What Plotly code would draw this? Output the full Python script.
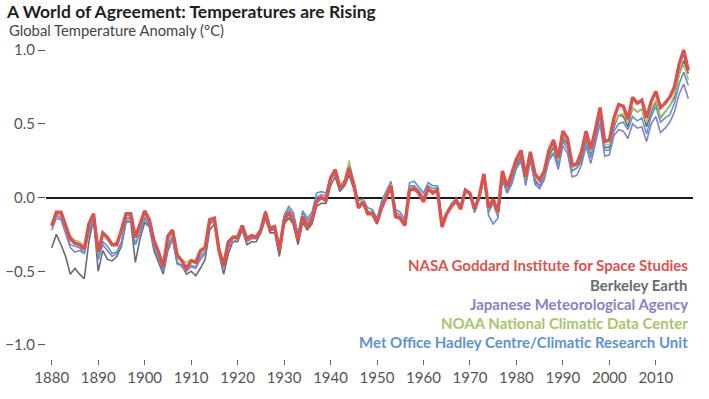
import plotly.graph_objects as go

years = list(range(1880, 2018))

nasa = [
    -0.19, -0.10, -0.10, -0.19, -0.28, -0.31, -0.32, -0.35, -0.18, -0.11,
    -0.37, -0.24, -0.27, -0.32, -0.32, -0.22, -0.11, -0.11, -0.27, -0.18,
    -0.09, -0.15, -0.29, -0.37, -0.47, -0.26, -0.22, -0.39, -0.43, -0.48,
    -0.43, -0.44, -0.36, -0.34, -0.15, -0.14, -0.36, -0.46, -0.30, -0.27,
    -0.27, -0.19, -0.28, -0.26, -0.27, -0.22, -0.10, -0.22, -0.20, -0.36,
    -0.16, -0.10, -0.16, -0.29, -0.13, -0.20, -0.15, -0.03, -0.00, -0.02,
    0.13, 0.19, 0.07, 0.09, 0.20, 0.09, -0.07, -0.03, -0.11, -0.11,
    -0.17, -0.07, 0.01, 0.08, -0.13, -0.14, -0.19, 0.05, 0.06, 0.03,
    -0.03, 0.06, 0.03, 0.05, -0.20, -0.11, -0.06, -0.02, -0.08, 0.05,
    0.03, -0.08, 0.01, 0.16, -0.07, -0.01, -0.10, 0.18, 0.07, 0.16,
    0.26, 0.32, 0.14, 0.31, 0.16, 0.12, 0.18, 0.32, 0.39, 0.27,
    0.45, 0.40, 0.22, 0.23, 0.31, 0.45, 0.33, 0.46, 0.61, 0.38,
    0.39, 0.54, 0.63, 0.62, 0.53, 0.68, 0.64, 0.66, 0.54, 0.65,
    0.72, 0.61, 0.64, 0.68, 0.75, 0.90, 1.00, 0.86,
]

berkeley = [
    -0.34, -0.25, -0.32, -0.40, -0.52, -0.48, -0.52, -0.55, -0.30, -0.14,
    -0.50, -0.36, -0.42, -0.43, -0.40, -0.33, -0.17, -0.16, -0.44, -0.28,
    -0.17, -0.20, -0.36, -0.44, -0.52, -0.36, -0.28, -0.45, -0.46, -0.52,
    -0.50, -0.53, -0.48, -0.42, -0.22, -0.18, -0.38, -0.52, -0.38, -0.30,
    -0.30, -0.22, -0.32, -0.30, -0.30, -0.24, -0.14, -0.24, -0.24, -0.40,
    -0.18, -0.14, -0.18, -0.32, -0.17, -0.22, -0.18, -0.06, -0.04, -0.04,
    0.08, 0.14, 0.04, 0.08, 0.15, 0.06, -0.06, -0.04, -0.10, -0.11,
    -0.18, -0.04, 0.02, 0.10, -0.12, -0.15, -0.19, 0.06, 0.08, 0.04,
    0.00, 0.06, 0.04, 0.06, -0.18, -0.11, -0.05, -0.02, -0.07, 0.04,
    0.02, -0.10, 0.00, 0.14, -0.09, -0.03, -0.12, 0.14, 0.05, 0.12,
    0.22, 0.28, 0.10, 0.28, 0.12, 0.08, 0.14, 0.28, 0.34, 0.24,
    0.40, 0.36, 0.18, 0.20, 0.27, 0.40, 0.30, 0.42, 0.57, 0.34,
    0.34, 0.48, 0.56, 0.55, 0.48, 0.61, 0.58, 0.60, 0.48, 0.58,
    0.65, 0.54, 0.58, 0.62, 0.68, 0.83, 0.93, 0.84,
]

jma = [
    -0.22, -0.14, -0.15, -0.24, -0.34, -0.37, -0.36, -0.38, -0.22, -0.16,
    -0.42, -0.32, -0.36, -0.40, -0.38, -0.32, -0.16, -0.14, -0.32, -0.24,
    -0.14, -0.20, -0.34, -0.42, -0.50, -0.34, -0.28, -0.44, -0.47, -0.50,
    -0.47, -0.48, -0.42, -0.38, -0.18, -0.16, -0.36, -0.48, -0.34, -0.30,
    -0.28, -0.22, -0.30, -0.28, -0.28, -0.23, -0.12, -0.22, -0.22, -0.34,
    -0.14, -0.08, -0.12, -0.26, -0.10, -0.16, -0.12, 0.00, 0.02, 0.01,
    0.12, 0.16, 0.06, 0.10, 0.18, 0.08, -0.06, -0.02, -0.10, -0.09,
    -0.16, -0.04, 0.04, 0.10, -0.10, -0.12, -0.17, 0.08, 0.08, 0.05,
    0.00, 0.08, 0.06, 0.07, -0.17, -0.10, -0.05, -0.01, -0.06, 0.05,
    0.02, -0.09, 0.00, 0.13, -0.10, -0.04, -0.13, 0.13, 0.03, 0.10,
    0.20, 0.26, 0.08, 0.25, 0.09, 0.06, 0.12, 0.25, 0.30, 0.19,
    0.35, 0.30, 0.14, 0.15, 0.22, 0.35, 0.23, 0.36, 0.50, 0.28,
    0.29, 0.42, 0.46, 0.45, 0.40, 0.50, 0.47, 0.48, 0.38, 0.50,
    0.55, 0.44, 0.47, 0.51, 0.58, 0.70, 0.77, 0.67,
]

noaa = [
    -0.17, -0.11, -0.12, -0.20, -0.26, -0.29, -0.30, -0.33, -0.20, -0.12,
    -0.36, -0.25, -0.29, -0.32, -0.30, -0.23, -0.12, -0.12, -0.27, -0.19,
    -0.11, -0.17, -0.28, -0.38, -0.45, -0.29, -0.23, -0.38, -0.42, -0.44,
    -0.42, -0.43, -0.38, -0.35, -0.17, -0.14, -0.33, -0.43, -0.30, -0.26,
    -0.26, -0.20, -0.27, -0.25, -0.26, -0.21, -0.10, -0.21, -0.20, -0.33,
    -0.15, -0.09, -0.14, -0.27, -0.12, -0.18, -0.13, -0.02, 0.00, -0.01,
    0.12, 0.17, 0.08, 0.11, 0.25, 0.11, -0.05, -0.02, -0.09, -0.10,
    -0.16, -0.05, 0.03, 0.09, -0.11, -0.13, -0.18, 0.06, 0.07, 0.04,
    -0.01, 0.06, 0.04, 0.06, -0.18, -0.10, -0.05, -0.01, -0.07, 0.05,
    0.02, -0.08, 0.01, 0.15, -0.08, -0.03, -0.11, 0.16, 0.06, 0.14,
    0.24, 0.30, 0.13, 0.29, 0.14, 0.11, 0.17, 0.30, 0.36, 0.25,
    0.42, 0.38, 0.20, 0.22, 0.29, 0.42, 0.31, 0.45, 0.59, 0.36,
    0.36, 0.50, 0.56, 0.57, 0.51, 0.61, 0.58, 0.60, 0.51, 0.60,
    0.66, 0.55, 0.58, 0.62, 0.70, 0.83, 0.90, 0.80,
]

metoffice = [
    -0.20, -0.12, -0.14, -0.22, -0.32, -0.33, -0.34, -0.38, -0.24, -0.14,
    -0.42, -0.30, -0.33, -0.38, -0.37, -0.30, -0.14, -0.13, -0.32, -0.23,
    -0.13, -0.19, -0.33, -0.42, -0.49, -0.32, -0.26, -0.44, -0.46, -0.48,
    -0.46, -0.47, -0.40, -0.37, -0.18, -0.15, -0.34, -0.45, -0.33, -0.28,
    -0.26, -0.20, -0.28, -0.26, -0.27, -0.21, -0.09, -0.20, -0.19, -0.33,
    -0.12, -0.06, -0.10, -0.25, -0.09, -0.14, -0.10, 0.03, 0.04, 0.03,
    0.14, 0.15, 0.08, 0.12, 0.22, 0.10, -0.02, -0.01, -0.07, -0.08,
    -0.14, -0.02, 0.05, 0.11, -0.08, -0.10, -0.15, 0.10, 0.11, 0.07,
    0.03, 0.10, 0.08, 0.08, -0.16, -0.10, -0.04, -0.01, -0.05, 0.06,
    0.03, -0.10, -0.01, 0.14, -0.12, -0.18, -0.14, 0.12, 0.03, 0.09,
    0.20, 0.24, 0.10, 0.27, 0.10, 0.08, 0.14, 0.27, 0.30, 0.22,
    0.38, 0.33, 0.18, 0.20, 0.24, 0.38, 0.27, 0.40, 0.55, 0.32,
    0.32, 0.45, 0.50, 0.51, 0.46, 0.55, 0.52, 0.54, 0.43, 0.55,
    0.62, 0.51, 0.54, 0.56, 0.64, 0.77, 0.85, 0.76,
]

series_names = [
    "NASA Goddard Institute for Space Studies",
    "Berkeley Earth",
    "Japanese Meteorological Agency",
    "NOAA National Climatic Data Center",
    "Met Office Hadley Centre/Climatic Research Unit",
]
series_colors = ["#d9534f", "#6b6b6b", "#8b7fc4", "#a9c46c", "#5f93cc"]

x_ticks = list(range(1880, 2011, 10))
y_ticks = [-1.0, -0.5, 0.0, 0.5, 1.0]
y_tick_text = ["\u22121.0", "\u22120.5", "0.0", "0.5", "1.0"]

W, H = 709, 399
L, R, T, B = 46, 16, 35, 40
PW, PH = W - L - R, H - T - B


def px_x(x):
    return (x - L) / PW


def px_y(y):
    return (H - B - y) / PH


fig = go.Figure()
draw_order = [(berkeley, 1), (jma, 2), (metoffice, 4), (noaa, 3), (nasa, 0)]
for vals, idx in draw_order:
    fig.add_trace(go.Scatter(
        x=years, y=vals, mode="lines", name=series_names[idx],
        line=dict(color=series_colors[idx], width=3.4 if idx == 0 else 1.6),
        showlegend=False, hoverinfo="skip",
    ))

legend_y = [265, 284.5, 304, 323, 342]
for name, col, ly in zip(series_names, series_colors, legend_y):
    fig.add_annotation(
        x=px_x(690), xref="paper", xanchor="right",
        y=px_y(ly), yref="paper", yanchor="middle",
        text=f"<b>{name}</b>", showarrow=False,
        font=dict(family="Lato, sans-serif", size=15, color=col),
    )

fig.add_annotation(
    x=px_x(7), xref="paper", xanchor="left",
    y=px_y(29.5), yref="paper", yanchor="middle",
    text="Global Temperature Anomaly (\u00b0C)", showarrow=False,
    font=dict(family="Lato, sans-serif", size=14.8, color="#444"),
)

fig.update_layout(
    width=W, height=H,
    margin=dict(l=L, r=R, t=T, b=B),
    paper_bgcolor="white", plot_bgcolor="white",
    font=dict(family="Lato, sans-serif", color="#555555"),
    title=dict(
        text="<b>A World of Agreement: Temperatures are Rising</b>",
        x=7 / W, xanchor="left", y=1 - 11.5 / H, yanchor="middle",
        font=dict(size=17.5, color="#1e1e1e"),
    ),
    xaxis=dict(
        range=[1878.77, 2018.0], tickvals=x_ticks,
        ticks="outside", ticklen=5, tickwidth=1, tickcolor="#666",
        showgrid=False, zeroline=False, showline=False, automargin=False,
        tickfont=dict(size=15, color="#555"),
    ),
    yaxis=dict(
        range=[-1.095, 1.102], tickvals=y_ticks, ticktext=y_tick_text,
        ticks="outside", ticklen=7, tickwidth=1.2, tickcolor="#555",
        showgrid=False, zeroline=True, zerolinecolor="#1a1a1a", zerolinewidth=1.5,
        showline=False, automargin=False, tickfont=dict(size=15, color="#555"),
    ),
)

fig.write_html(
    "out.html",
    config={"displayModeBar": False},
    post_script="document.body.style.margin='0';document.body.style.overflow='hidden';",
)
